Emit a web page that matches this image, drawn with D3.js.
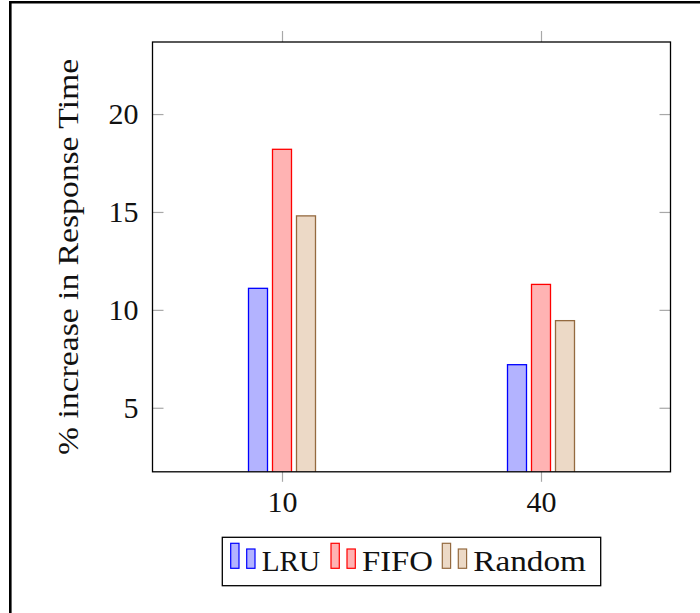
<!DOCTYPE html>
<html>
<head>
<meta charset="utf-8">
<script src="https://cdn.jsdelivr.net/npm/d3@7"></script>
<style>
  body { margin: 0; background: #fff; }
  svg text { font-family: "Liberation Serif", "DejaVu Serif", serif; fill: #111; }
</style>
</head>
<body>
<div id="chart"></div>
<script>
// values
const categories = [10, 40]
const seriesNames = ["LRU", "FIFO", "Random"]
const lruValues = [11.1, 7.2]
const fifoValues = [18.2, 11.3]
const randomValues = [14.8, 9.45]
const yTickValues = [5, 10, 15, 20]

const width = 700
const height = 613

// plot box
const plotLeft = 152.5, plotRight = 670.5, plotTop = 42, plotBottom = 471.8

const seriesColors = {
  LRU: { fill: "#b3b3ff", stroke: "#0000ff" },
  FIFO: { fill: "#ffb3b3", stroke: "#ff0000" },
  Random: { fill: "#ecd9c6", stroke: "#946a40" }
}

const seriesData = [lruValues, fifoValues, randomValues]

const svg = d3.select("#chart").append("svg")
  .attr("width", width)
  .attr("height", height)

// outer frame (only top and left edges are in view)
svg.append("path")
  .attr("d", `M10.3,${height} V2.2 H${width}`)
  .attr("fill", "none")
  .attr("stroke", "#000")
  .attr("stroke-width", 2.6)

// x: enlarge limits by half the data range on each side
const xScale = d3.scaleLinear()
  .domain([-5, 55])
  .range([plotLeft, plotRight])

const yScale = d3.scaleLinear()
  .domain([1.73, 23.68])
  .range([plotBottom, plotTop])

const barWidth = 19
const barStep = 24

// bars, clipped to the plot box
svg.append("clipPath").attr("id", "plot-clip")
  .append("rect")
  .attr("x", plotLeft).attr("y", plotTop)
  .attr("width", plotRight - plotLeft).attr("height", plotBottom - plotTop)

const bars = svg.append("g").attr("clip-path", "url(#plot-clip)")

seriesNames.forEach((name, i) => {
  bars.append("g")
    .selectAll("rect")
    .data(categories.map((c, j) => ({ c: c, v: seriesData[i][j] })))
    .join("rect")
    .attr("x", d => xScale(d.c) + (i - 1) * barStep - barWidth / 2)
    .attr("y", d => yScale(d.v))
    .attr("width", barWidth)
    .attr("height", d => yScale(0) - yScale(d.v))
    .attr("fill", seriesColors[name].fill)
    .attr("stroke", seriesColors[name].stroke)
    .attr("stroke-width", 1.3)
})

const tickColor = "#a8a8a8"

function styleAxis(g) {
  g.select(".domain").remove()
  g.selectAll(".tick line").attr("stroke", tickColor).attr("stroke-width", 1.2)
  g.selectAll(".tick text").attr("font-size", 30).attr("fill", "#111")
    .attr("font-family", "Liberation Serif, serif")
}

// left axis with labels, ticks pointing in
svg.append("g")
  .attr("transform", `translate(${plotLeft},0)`)
  .call(d3.axisLeft(yScale).tickValues(yTickValues).tickSizeInner(-11).tickSizeOuter(0).tickPadding(14))
  .call(styleAxis)

// right mirror ticks
svg.append("g")
  .attr("transform", `translate(${plotRight},0)`)
  .call(d3.axisRight(yScale).tickValues(yTickValues).tickSizeInner(-11).tickSizeOuter(0).tickFormat(""))
  .call(styleAxis)

// bottom axis, ticks pointing out
svg.append("g")
  .attr("transform", `translate(0,${plotBottom})`)
  .call(d3.axisBottom(xScale).tickValues(categories).tickSizeInner(10).tickSizeOuter(0).tickPadding(9))
  .call(styleAxis)

// top mirror ticks
svg.append("g")
  .attr("transform", `translate(0,${plotTop})`)
  .call(d3.axisTop(xScale).tickValues(categories).tickSizeInner(11).tickSizeOuter(0).tickFormat(""))
  .call(styleAxis)

// plot box outline
svg.append("rect")
  .attr("x", plotLeft).attr("y", plotTop)
  .attr("width", plotRight - plotLeft).attr("height", plotBottom - plotTop)
  .attr("fill", "none")
  .attr("stroke", "#000")
  .attr("stroke-width", 1.3)

// y axis title
svg.append("text")
  .attr("transform", `translate(78,${(plotTop + plotBottom) / 2}) rotate(-90)`)
  .attr("text-anchor", "middle")
  .attr("font-size", 30)
  .attr("textLength", 396)
  .attr("lengthAdjust", "spacingAndGlyphs")
  .text("% increase in Response Time")

// legend
const legend = svg.append("g")
legend.append("rect")
  .attr("x", 222.3).attr("y", 537.3)
  .attr("width", 378.4).attr("height", 48.4)
  .attr("fill", "#fff")
  .attr("stroke", "#000")
  .attr("stroke-width", 1.3)

const legendX = [230.7, 331, 442.3]
const legendTextWidth = [58.5, 71, 112.7]

seriesNames.forEach((name, i) => {
  const x0 = legendX[i]
  legend.append("rect")
    .attr("x", x0).attr("y", 543.3)
    .attr("width", 8.3).attr("height", 25)
    .attr("fill", seriesColors[name].fill)
    .attr("stroke", seriesColors[name].stroke)
    .attr("stroke-width", 1.2)
  legend.append("rect")
    .attr("x", x0 + 16).attr("y", 549)
    .attr("width", 8.3).attr("height", 19.3)
    .attr("fill", seriesColors[name].fill)
    .attr("stroke", seriesColors[name].stroke)
    .attr("stroke-width", 1.2)
  legend.append("text")
    .attr("x", x0 + 31)
    .attr("y", 570.5)
    .attr("font-size", 30)
    .attr("textLength", legendTextWidth[i])
    .attr("lengthAdjust", "spacingAndGlyphs")
    .text(name)
})
</script>
</body>
</html>
